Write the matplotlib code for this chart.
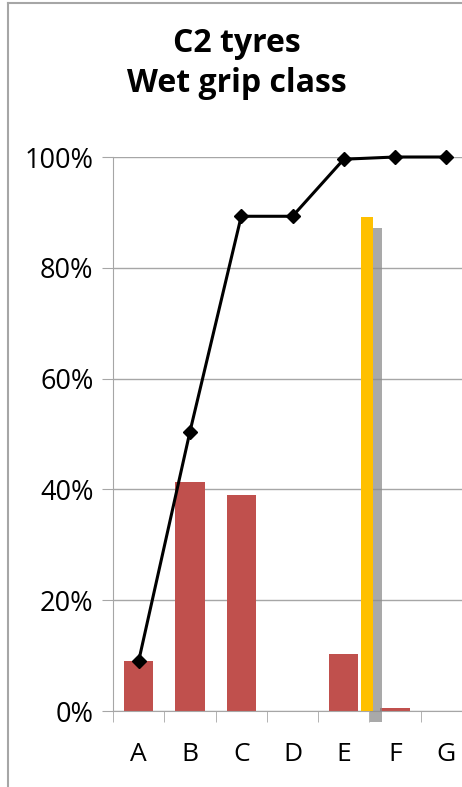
import matplotlib.pyplot as plt
import matplotlib.patheffects as pe
from matplotlib.lines import Line2D
import numpy as np

plt.rcParams['font.family'] = ['Open Sans', 'DejaVu Sans']

classes = ['A', 'B', 'C', 'D', 'E', 'F', 'G']
share = [9.0, 41.4, 38.9, 0.0, 10.3, 0.6, 0.0]
cumulative = [9.0, 50.4, 89.3, 89.3, 99.6, 100.0, 100.0]
marker_pos = [4.46]
marker_val = [89.2]

fig = plt.figure(figsize=(4.62, 7.87), dpi=100)
ax = fig.add_axes([113/462, 1 - 711/787, 359/462, 554/787])

x = np.arange(len(classes))
ax.bar(x, share, width=0.57, color='#C0504D', zorder=2)
ax.bar(marker_pos, marker_val, width=0.23, color='#FFC000', zorder=3, clip_on=False,
       path_effects=[pe.SimplePatchShadow(offset=(6, -8), shadow_rgbFace='#8c8c8c', alpha=0.75), pe.Normal()])
ax.plot(x, cumulative, color='black', lw=2.2, marker='D', ms=7.5, zorder=4, clip_on=False)

ax.set_xlim(-0.5, 6.5)
ax.set_ylim(0, 100)
ax.set_yticks(np.arange(0, 101, 20))
ax.set_yticklabels([f'{v}%' for v in range(0, 101, 20)], fontsize=19.5)
ax.set_xticks(x)
ax.set_xticklabels(classes, fontsize=19)
ax.set_xticks(np.arange(-0.5, 6.6, 1), minor=True)
ax.tick_params(axis='x', which='major', length=0, pad=22)
ax.tick_params(axis='x', which='minor', length=8, color='#a6a6a6', direction='out')
ax.tick_params(axis='y', length=8, color='#a6a6a6', pad=6)
ax.yaxis.grid(True, color='#a6a6a6', lw=1, zorder=0)
ax.set_axisbelow(True)
for s in ['top', 'right']:
    ax.spines[s].set_visible(False)
ax.spines['left'].set_color('#a6a6a6')
ax.spines['bottom'].set_color('#a6a6a6')

fig.text(237/462, 1 - 44/787, 'C2 tyres', ha='center', va='center', fontsize=23, fontweight='bold')
fig.text(237/462, 1 - 83/787, 'Wet grip class', ha='center', va='center', fontsize=23, fontweight='bold')

# chart border
fig.add_artist(Line2D([8/462, 8/462], [0, 1 - 3/787], color='#a6a6a6', lw=1.5))
fig.add_artist(Line2D([8/462, 1], [1 - 3/787, 1 - 3/787], color='#a6a6a6', lw=1.5))

fig.savefig('out.png', dpi=100)
